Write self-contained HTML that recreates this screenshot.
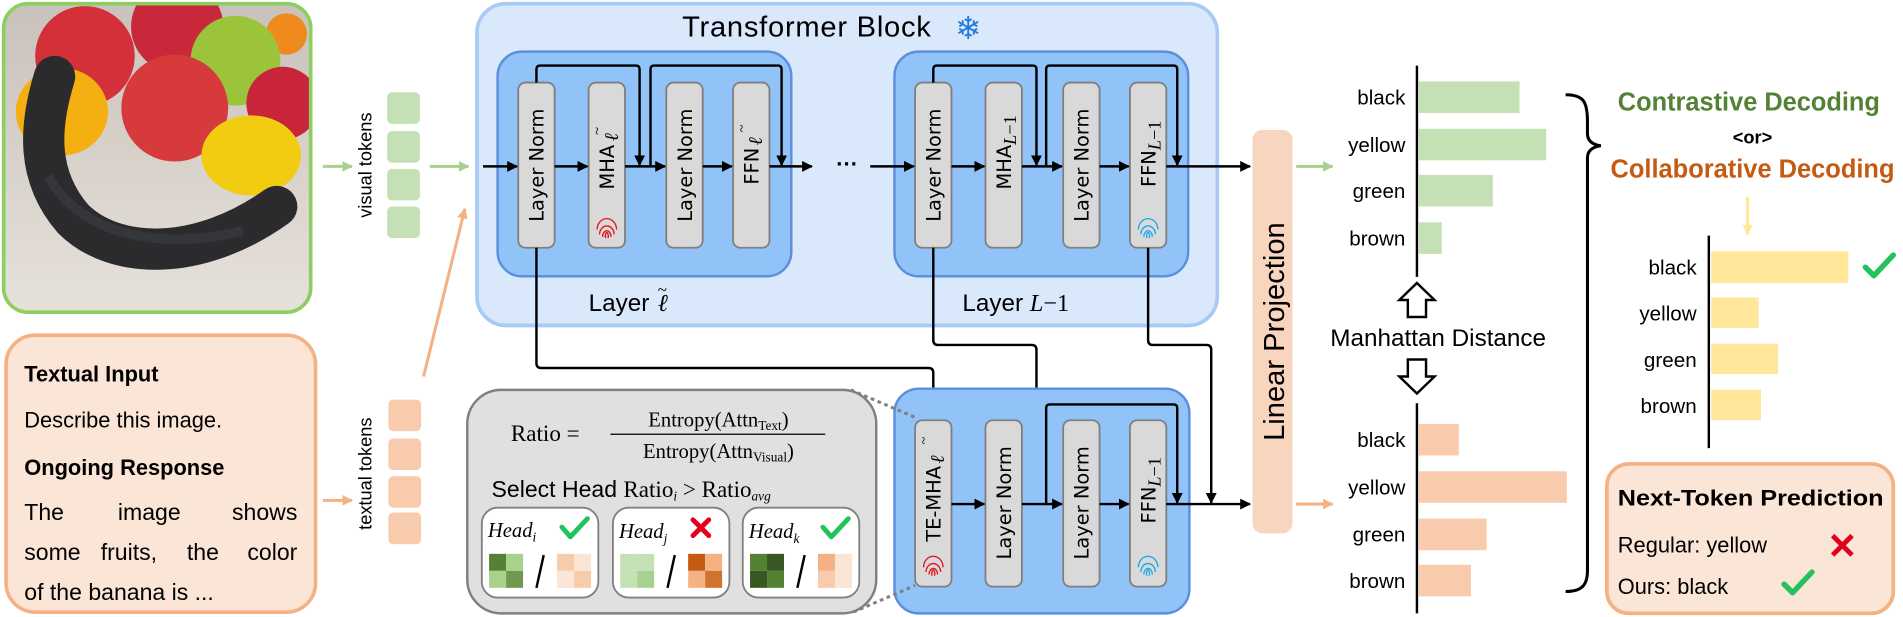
<!DOCTYPE html>
<html><head><meta charset="utf-8"><style>
html,body{margin:0;padding:0;background:#fff;}
svg{display:block;}
text{font-family:"Liberation Sans","DejaVu Sans",sans-serif;}
.dj{font-family:"DejaVu Sans","Liberation Sans",sans-serif;}
.sr{font-family:"Liberation Serif","DejaVu Serif",serif;}
</style></head><body>
<svg width="1903" height="617" viewBox="0 0 1568 508" preserveAspectRatio="none" xmlns="http://www.w3.org/2000/svg">
<defs>
<marker id="ah" viewBox="0 0 10 10" refX="9" refY="5" markerWidth="4.5" markerHeight="4.5" orient="auto"><path d="M0,0L10,5L0,10z" fill="#000"/></marker>
<marker id="ahg" viewBox="0 0 10 10" refX="9" refY="5" markerWidth="3.5" markerHeight="3.5" orient="auto"><path d="M0,0L10,5L0,10z" fill="#a9d18e"/></marker>
<marker id="aho" viewBox="0 0 10 10" refX="9" refY="5" markerWidth="3.5" markerHeight="3.5" orient="auto"><path d="M0,0L10,5L0,10z" fill="#f4b183"/></marker>
<marker id="ahy" viewBox="0 0 10 10" refX="9" refY="5" markerWidth="3.5" markerHeight="3.5" orient="auto"><path d="M0,0L10,5L0,10z" fill="#ffe699"/></marker>
<clipPath id="imgc"><rect x="3" y="3" width="253" height="254" rx="20"/></clipPath>
<linearGradient id="wood" x1="0" y1="0" x2="0" y2="1"><stop offset="0" stop-color="#c9c2bb"/><stop offset="1" stop-color="#e6e1da"/></linearGradient>
<g id="fpr"><path d="M-6,4 A6,7 0 1 1 6,4 M-3.5,6 A3.5,5 0 1 1 3.5,6 M-1,7 A1.2,3 0 1 1 1,7 M-8,0 A8,9 0 0 1 8,0" fill="none" stroke-width="1.1"/></g>
</defs>

<g clip-path="url(#imgc)">
<rect x="3" y="3" width="253" height="254" fill="url(#wood)"/>
<circle cx="146" cy="22" r="38" fill="#c8283a"/>
<circle cx="236" cy="28" r="17" fill="#ee8a1e"/>
<circle cx="194" cy="50" r="37" fill="#9cc43a"/>
<circle cx="70" cy="46" r="41" fill="#d3303a"/>
<circle cx="233" cy="85" r="30" fill="#c8243a"/>
<circle cx="144" cy="89" r="44" fill="#d63a3a"/>
<ellipse cx="51" cy="92" rx="38" ry="36" fill="#f3b010"/>
<ellipse cx="207" cy="128" rx="41" ry="33" fill="#f2cc10"/>
<path d="M45,63 C32,105 30,145 60,180 C95,215 165,215 228,170" fill="none" stroke="#2b2b2d" stroke-width="34" stroke-linecap="round"/>
<path d="M40,145 C60,185 120,210 200,190" fill="none" stroke="#3e4248" stroke-width="8" opacity="0.5"/>
</g>
<rect x="3" y="3" width="253" height="254" rx="20" fill="none" stroke="#8ccf5e" stroke-width="3"/>

<rect x="5" y="276" width="255" height="228" rx="24" fill="#fbe5d6" stroke="#f4b183" stroke-width="3"/>
<text x="20" y="314" font-size="18" font-weight="bold">Textual Input</text>
<text x="20" y="352" font-size="18">Describe this image.</text>
<text x="20" y="391" font-size="18" font-weight="bold">Ongoing Response</text>
<g font-size="19">
<text x="20" y="428">The</text><text x="123" y="428" text-anchor="middle">image</text><text x="245" y="428" text-anchor="end">shows</text>
<text x="20" y="461">some</text><text x="83" y="461">fruits,</text><text x="154" y="461">the</text><text x="245" y="461" text-anchor="end">color</text>
<text x="20" y="494">of the banana is ...</text>
</g>

<line x1="266" y1="137" x2="290" y2="137" stroke="#a9d18e" stroke-width="2.5" marker-end="url(#ahg)"/>
<text transform="translate(306,136) rotate(-90)" text-anchor="middle" font-size="15">visual tokens</text>
<rect x="319" y="76" width="27" height="26" rx="4" fill="#c5e0b4"/>
<rect x="319" y="108" width="27" height="26" rx="4" fill="#c5e0b4"/>
<rect x="319" y="139" width="27" height="26" rx="4" fill="#c5e0b4"/>
<rect x="319" y="170" width="27" height="26" rx="4" fill="#c5e0b4"/>
<line x1="354" y1="137" x2="386" y2="137" stroke="#a9d18e" stroke-width="2.5" marker-end="url(#ahg)"/>

<line x1="266" y1="412" x2="290" y2="412" stroke="#f4b183" stroke-width="2.5" marker-end="url(#aho)"/>
<text transform="translate(306,390) rotate(-90)" text-anchor="middle" font-size="15">textual tokens</text>
<rect x="320" y="329" width="27" height="26" rx="4" fill="#f8cbad"/>
<rect x="320" y="361" width="27" height="26" rx="4" fill="#f8cbad"/>
<rect x="320" y="392" width="27" height="26" rx="4" fill="#f8cbad"/>
<rect x="320" y="422" width="27" height="26" rx="4" fill="#f8cbad"/>
<line x1="349" y1="310" x2="383" y2="172" stroke="#f4b183" stroke-width="2.5" marker-end="url(#aho)"/>

<rect x="393" y="3" width="610" height="265" rx="24" fill="#dae8fc" stroke="#a7cbf5" stroke-width="3"/>
<text x="562" y="30" font-size="24" textLength="205">Transformer Block</text>
<text x="787" y="32" font-size="26" fill="#1f7be0" class="dj">❄</text>

<rect x="410" y="42.5" width="242" height="185" rx="20" fill="#91c2f8" stroke="#5b8fdc" stroke-width="2"/>
<rect x="737" y="42.5" width="242" height="185" rx="20" fill="#91c2f8" stroke="#5b8fdc" stroke-width="2"/>
<text x="485" y="256" font-size="20">Layer</text>
<text x="542" y="256" font-size="20" class="sr" font-style="italic">ℓ</text>
<text x="542" y="243" font-size="14" class="sr">~</text>
<text x="793" y="256" font-size="20">Layer <tspan class="sr" font-style="italic">L</tspan><tspan class="sr">−1</tspan></text>

<g fill="#d9d9d9" stroke="#7f7f7f" stroke-width="1.5">
<rect x="427" y="68" width="30" height="136" rx="6"/>
<rect x="485" y="68" width="30" height="136" rx="6"/>
<rect x="549" y="68" width="30" height="136" rx="6"/>
<rect x="604" y="68" width="30" height="136" rx="6"/>
<rect x="754" y="68" width="30" height="136" rx="6"/>
<rect x="812" y="68" width="30" height="136" rx="6"/>
<rect x="876" y="68" width="30" height="136" rx="6"/>
<rect x="931" y="68" width="30" height="136" rx="6"/>
</g>
<g font-size="16" class="dj">
<text transform="translate(448,136) rotate(-90)" text-anchor="middle" class="dj">Layer Norm</text>
<text transform="translate(506,156) rotate(-90)" class="dj">MHA<tspan class="sr" font-style="italic" dx="3" dy="3">ℓ</tspan></text>
<text transform="translate(496,111) rotate(-90)" class="sr" font-size="12">~</text>
<text transform="translate(570,136) rotate(-90)" text-anchor="middle" class="dj">Layer Norm</text>
<text transform="translate(625,152) rotate(-90)" class="dj">FFN<tspan class="sr" font-style="italic" dx="2" dy="3">ℓ</tspan></text>
<text transform="translate(615,109) rotate(-90)" class="sr" font-size="12">~</text>
<text transform="translate(775,136) rotate(-90)" text-anchor="middle" class="dj">Layer Norm</text>
<text transform="translate(833,156) rotate(-90)" class="dj">MHA<tspan class="sr" font-size="15" dy="4"><tspan font-style="italic">L</tspan>−1</tspan></text>
<text transform="translate(897,136) rotate(-90)" text-anchor="middle" class="dj">Layer Norm</text>
<text transform="translate(952,154) rotate(-90)" class="dj">FFN<tspan class="sr" font-size="15" dy="4"><tspan font-style="italic">L</tspan>−1</tspan></text>
</g>
<use href="#fpr" x="500" y="189" stroke="#e0141e"/>
<use href="#fpr" x="946" y="189" stroke="#1da8e6"/>

<g stroke="#000" stroke-width="2" fill="none">
<line x1="398" y1="137" x2="426" y2="137" marker-end="url(#ah)"/>
<line x1="457" y1="137" x2="484" y2="137" marker-end="url(#ah)"/>
<line x1="515" y1="137" x2="548" y2="137" marker-end="url(#ah)"/>
<line x1="579" y1="137" x2="603" y2="137" marker-end="url(#ah)"/>
<line x1="634" y1="137" x2="669" y2="137" marker-end="url(#ah)"/>
<path d="M442,68 V57 Q442,54 445,54 H524 Q527,54 527,57 V136" marker-end="url(#ah)"/>
<path d="M536,137 V57 Q536,54 539,54 H641 Q644,54 644,57 V136" marker-end="url(#ah)"/>
<line x1="717" y1="137" x2="753" y2="137" marker-end="url(#ah)"/>
<line x1="784" y1="137" x2="811" y2="137" marker-end="url(#ah)"/>
<line x1="842" y1="137" x2="875" y2="137" marker-end="url(#ah)"/>
<line x1="906" y1="137" x2="930" y2="137" marker-end="url(#ah)"/>
<line x1="961" y1="137" x2="1030" y2="137" marker-end="url(#ah)"/>
<path d="M769,68 V57 Q769,54 772,54 H851 Q854,54 854,57 V136" marker-end="url(#ah)"/>
<path d="M862,137 V57 Q862,54 865,54 H967 Q970,54 970,57 V136" marker-end="url(#ah)"/>
<path d="M442,204 V299 Q442,303 446,303 H765 Q769,303 769,307 V345" marker-end="url(#ah)"/>
<path d="M769,204 V280 Q769,284 773,284 H850 Q854,284 854,288 V414" marker-end="url(#ah)"/>
<path d="M946,204 V280 Q946,284 950,284 H994 Q998,284 998,288 V414" marker-end="url(#ah)"/>
</g>
<text x="689" y="141" font-size="18" font-weight="bold">···</text>

<rect x="737" y="320" width="243" height="185" rx="20" fill="#91c2f8" stroke="#5b8fdc" stroke-width="2"/>
<g fill="#d9d9d9" stroke="#7f7f7f" stroke-width="1.5">
<rect x="754" y="346" width="30" height="137" rx="6"/>
<rect x="812" y="346" width="30" height="137" rx="6"/>
<rect x="876" y="346" width="30" height="137" rx="6"/>
<rect x="931" y="346" width="30" height="137" rx="6"/>
</g>
<g font-size="16">
<text transform="translate(775,446) rotate(-90)" class="dj">TE-MHA<tspan class="sr" font-style="italic" dx="2" dy="3">ℓ</tspan></text>
<text transform="translate(765,366) rotate(-90)" class="sr" font-size="12">~</text>
<text transform="translate(833,414) rotate(-90)" text-anchor="middle" class="dj">Layer Norm</text>
<text transform="translate(897,414) rotate(-90)" text-anchor="middle" class="dj">Layer Norm</text>
<text transform="translate(952,431) rotate(-90)" class="dj">FFN<tspan class="sr" font-size="15" dy="4"><tspan font-style="italic">L</tspan>−1</tspan></text>
</g>
<use href="#fpr" x="769" y="467" stroke="#e0141e"/>
<use href="#fpr" x="946" y="467" stroke="#1da8e6"/>
<g stroke="#000" stroke-width="2" fill="none">
<line x1="784" y1="415" x2="811" y2="415" marker-end="url(#ah)"/>
<line x1="842" y1="415" x2="875" y2="415" marker-end="url(#ah)"/>
<line x1="906" y1="415" x2="930" y2="415" marker-end="url(#ah)"/>
<line x1="961" y1="415" x2="1030" y2="415" marker-end="url(#ah)"/>
<path d="M862,415 V336 Q862,333 865,333 H967 Q970,333 970,336 V414" marker-end="url(#ah)"/>
</g>

<line x1="701" y1="321" x2="755" y2="344" stroke="#808080" stroke-width="2.5" stroke-dasharray="3,3"/>
<line x1="703" y1="504" x2="754" y2="482" stroke="#808080" stroke-width="2.5" stroke-dasharray="3,3"/>
<rect x="385" y="321" width="337" height="184" rx="28" fill="#e0e0e0" stroke="#808080" stroke-width="2"/>
<g class="sr" font-size="17">
<text x="421" y="363" class="sr" font-size="19">Ratio =</text>
<text x="592" y="351" class="sr" text-anchor="middle">Entropy(Attn<tspan font-size="11" dy="3">Text</tspan><tspan dy="-3">)</tspan></text>
<line x1="503" y1="357.5" x2="680" y2="357.5" stroke="#000" stroke-width="1"/>
<text x="592" y="377" class="sr" text-anchor="middle">Entropy(Attn<tspan font-size="11" dy="3">Visual</tspan><tspan dy="-3">)</tspan></text>
</g>
<text x="405" y="409" font-size="19">Select Head <tspan class="sr" font-size="19">Ratio<tspan font-size="11" font-style="italic" dy="3">i</tspan><tspan dy="-3"> &gt; Ratio</tspan><tspan font-size="11" font-style="italic" dy="3">avg</tspan></tspan></text>

<g stroke="#808080" stroke-width="1.5" fill="#fff">
<rect x="397" y="418" width="96" height="74" rx="13"/>
<rect x="505" y="418" width="96" height="74" rx="13"/>
<rect x="612" y="418" width="96" height="74" rx="13"/>
</g>
<g class="sr" font-style="italic" font-size="17">
<text x="402" y="442" class="sr">Head<tspan font-size="11" dy="4">i</tspan></text>
<text x="510" y="443" class="sr">Head<tspan font-size="11" dy="4">j</tspan></text>
<text x="617" y="443" class="sr">Head<tspan font-size="11" dy="4">k</tspan></text>
</g>
<g fill="none" stroke-linecap="round" stroke-linejoin="round" stroke-width="4">
<path d="M463,434 L470,442 L484,427" stroke="#22c35e"/>
<path d="M678,434 L685,442 L699,427" stroke="#22c35e"/>
<path d="M571,428 L584,441 M584,428 L571,441" stroke="#e3001b"/>
</g>
<g>
<rect x="403" y="456" width="14" height="14" fill="#548235"/><rect x="417" y="456" width="14" height="14" fill="#a9d18e"/>
<rect x="403" y="470" width="14" height="14" fill="#a9d18e"/><rect x="417" y="470" width="14" height="14" fill="#70984f"/>
<rect x="459" y="456" width="14" height="14" fill="#f8cbad"/><rect x="473" y="456" width="14" height="14" fill="#fbe5d6"/>
<rect x="459" y="470" width="14" height="14" fill="#fbe5d6"/><rect x="473" y="470" width="14" height="14" fill="#f8cbad"/>
<rect x="511" y="456" width="14" height="14" fill="#c5e0b4"/><rect x="525" y="456" width="14" height="14" fill="#c5e0b4"/>
<rect x="511" y="470" width="14" height="14" fill="#c5e0b4"/><rect x="525" y="470" width="14" height="14" fill="#a9d18e"/>
<rect x="567" y="456" width="14" height="14" fill="#c55a11"/><rect x="581" y="456" width="14" height="14" fill="#f4b183"/>
<rect x="567" y="470" width="14" height="14" fill="#f4b183"/><rect x="581" y="470" width="14" height="14" fill="#d0732f"/>
<rect x="618" y="456" width="14" height="14" fill="#548235"/><rect x="632" y="456" width="14" height="14" fill="#385723"/>
<rect x="618" y="470" width="14" height="14" fill="#385723"/><rect x="632" y="470" width="14" height="14" fill="#548235"/>
<rect x="674" y="456" width="14" height="14" fill="#f4b183"/><rect x="688" y="456" width="14" height="14" fill="#fbe5d6"/>
<rect x="674" y="470" width="14" height="14" fill="#f8cbad"/><rect x="688" y="470" width="14" height="14" fill="#fbe5d6"/>
</g>
<g stroke="#000" stroke-width="2">
<line x1="448" y1="457" x2="442" y2="484"/>
<line x1="556" y1="457" x2="550" y2="484"/>
<line x1="663" y1="457" x2="657" y2="484"/>
</g>

<rect x="1032" y="107" width="33" height="332" rx="8" fill="#f8d5bf"/>
<text transform="translate(1058,273) rotate(-90)" text-anchor="middle" font-size="24">Linear Projection</text>
<line x1="1068" y1="137" x2="1098" y2="137" stroke="#a9d18e" stroke-width="2.5" marker-end="url(#ahg)"/>
<line x1="1068" y1="415" x2="1098" y2="415" stroke="#f4b183" stroke-width="2.5" marker-end="url(#aho)"/>

<g fill="#c5e0b4">
<rect x="1169" y="67" width="83" height="26"/>
<rect x="1169" y="106" width="105" height="26"/>
<rect x="1169" y="144" width="61" height="26"/>
<rect x="1169" y="183" width="19" height="26"/>
</g>
<line x1="1167.5" y1="54" x2="1167.5" y2="228" stroke="#000" stroke-width="2"/>
<g font-size="17" text-anchor="end">
<text x="1158" y="86">black</text>
<text x="1158" y="125">yellow</text>
<text x="1158" y="163">green</text>
<text x="1158" y="202">brown</text>
</g>
<path d="M1167.5,233 L1182,247 L1175,247 L1175,261 L1160,261 L1160,247 L1153,247 Z" fill="#fff" stroke="#000" stroke-width="2"/>
<text x="1185" y="285" font-size="20" text-anchor="middle">Manhattan Distance</text>
<path d="M1167.5,324 L1182,310 L1175,310 L1175,296 L1160,296 L1160,310 L1153,310 Z" fill="#fff" stroke="#000" stroke-width="2"/>

<g fill="#f8cbad">
<rect x="1169" y="349" width="33" height="26"/>
<rect x="1169" y="388" width="122" height="26"/>
<rect x="1169" y="427" width="56" height="26"/>
<rect x="1169" y="465" width="43" height="26"/>
</g>
<line x1="1167.5" y1="332" x2="1167.5" y2="505" stroke="#000" stroke-width="2"/>
<g font-size="17" text-anchor="end">
<text x="1158" y="368">black</text>
<text x="1158" y="407">yellow</text>
<text x="1158" y="446">green</text>
<text x="1158" y="484">brown</text>
</g>

<path d="M1290,78 C1305,78 1308,84 1308,100 L1308,110 C1308,116 1312,119 1319,120 C1312,121 1308,124 1308,130 L1308,470 C1308,482 1303,487 1290,487" fill="none" stroke="#000" stroke-width="2.5"/>

<text x="1441" y="91" font-size="21" fill="#548235" text-anchor="middle" textLength="216" font-weight="bold" lengthAdjust="spacingAndGlyphs">Contrastive Decoding</text>
<text x="1444" y="118" font-size="15" text-anchor="middle" font-weight="bold">&lt;or&gt;</text>
<text x="1444" y="146" font-size="21" fill="#c55a11" text-anchor="middle" textLength="234" font-weight="bold" lengthAdjust="spacingAndGlyphs">Collaborative Decoding</text>
<line x1="1440" y1="162" x2="1440" y2="193" stroke="#ffe699" stroke-width="2.5" marker-end="url(#ahy)"/>

<g fill="#ffe699">
<rect x="1410" y="207" width="113" height="26"/>
<rect x="1410" y="245" width="39" height="25"/>
<rect x="1410" y="283" width="55" height="25"/>
<rect x="1410" y="321" width="41" height="25"/>
</g>
<line x1="1408" y1="194" x2="1408" y2="369" stroke="#000" stroke-width="2"/>
<g font-size="17" text-anchor="end">
<text x="1398" y="226">black</text>
<text x="1398" y="264">yellow</text>
<text x="1398" y="302">green</text>
<text x="1398" y="340">brown</text>
</g>
<path d="M1537,220 L1544,227 L1560,210" fill="none" stroke="#22c35e" stroke-width="4.5" stroke-linecap="round" stroke-linejoin="round"/>

<rect x="1324" y="382" width="236" height="123" rx="18" fill="#fbe5d6" stroke="#f4b183" stroke-width="3"/>
<text x="1333" y="416" font-size="18" font-weight="bold" textLength="219" lengthAdjust="spacingAndGlyphs">Next-Token Prediction</text>
<text x="1333" y="455" font-size="18">Regular: yellow</text>
<text x="1333" y="489" font-size="18">Ours: black</text>
<path d="M1510,441 L1526,457 M1526,441 L1510,457" stroke="#e3001b" stroke-width="4"/>
<path d="M1470,481 L1477,488 L1493,471" fill="none" stroke="#22c35e" stroke-width="4.5" stroke-linecap="round" stroke-linejoin="round"/>
</svg>
</body></html>
